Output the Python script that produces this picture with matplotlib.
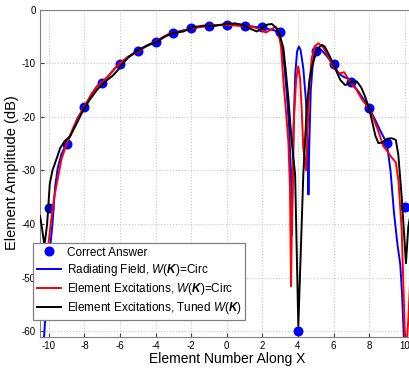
import numpy as np
import matplotlib
matplotlib.use("Agg")
import matplotlib.pyplot as plt

plt.rcParams['font.family'] = ['Liberation Sans', 'DejaVu Sans']
plt.rcParams['axes.unicode_minus'] = False
plt.rcParams['mathtext.fontset'] = 'custom'
plt.rcParams['mathtext.rm'] = 'Liberation Sans'
plt.rcParams['mathtext.it'] = 'Liberation Sans:style=italic'
plt.rcParams['mathtext.bf'] = 'Liberation Sans:style=italic:weight=bold'

# ── data ────────────────────────────────────────────────────────────────────
answer_x = list(range(-10, 11))
answer_db = [-37, -25, -18.2, -13.7, -10.2, -7.8, -6.0, -4.3, -3.5, -3.0, -2.8,
             -3.0, -3.3, -4.2, -60, -7.7, -10.2, -13.6, -18.4, -24.9, -36.8]

radiating_x = [-10.27, -10.1, -9.95, -9.8, -9.65, -9.5, -9.3, -9.0, -8.7, -8.4,
               -8.0, -7.6, -7.3, -7.0, -6.7, -6.3, -6.0, -5.6, -5.3, -5.0,
               -4.6, -4.3, -4.0, -3.6, -3.3, -3.0, -2.6, -2.3, -2.0, -1.6,
               -1.3, -1.0, -0.5, 0.0, 0.5, 1.0, 1.5, 2.0, 2.4, 2.7,
               2.9, 3.1, 3.25, 3.4, 3.5, 3.6, 3.66, 3.75, 3.85, 3.95,
               4.05, 4.15, 4.3, 4.45, 4.55, 4.59, 4.63, 4.72, 4.85, 4.97,
               5.1, 5.3, 5.6, 5.9, 6.0, 6.3, 6.6, 6.9, 7.0, 7.4,
               7.7, 8.0, 8.3, 8.6, 9.0, 9.2, 9.4, 9.6, 9.75, 9.85, 9.95]
radiating_db = [-61, -52, -45, -40, -33, -29.5, -27, -25, -22.8, -20.3,
                -18.2, -15.8, -14.3, -13.6, -12.6, -11.0, -10.2, -9.0, -8.4, -7.8,
                -6.9, -6.4, -6.0, -5.2, -4.7, -4.4, -4.0, -3.8, -3.5, -3.3,
                -3.1, -3.0, -2.9, -2.8, -2.9, -3.0, -3.2, -3.4, -3.7, -3.9,
                -4.5, -7.0, -11, -17, -22, -30, -42, -22, -12, -7.8,
                -6.9, -7.6, -11, -17, -26, -34.5, -26, -15, -9.5, -7.5,
                -7.1, -7.5, -8.6, -9.9, -10.3, -12.0, -12.6, -13.0, -13.6, -15.3,
                -16.8, -18.4, -20.3, -22.4, -25.0, -30, -38, -44, -47.5, -53, -61]

excit_x = [-10.5, -10.3, -10.1, -9.9, -9.7, -9.5, -9.3, -9.0, -8.6, -8.3,
           -8.0, -7.6, -7.3, -7.0, -6.6, -6.3, -6.0, -5.6, -5.3, -5.0,
           -4.6, -4.3, -4.0, -3.6, -3.3, -3.0, -2.6, -2.3, -2.0, -1.6,
           -1.3, -1.0, -0.5, 0.0, 0.5, 1.0, 1.4, 1.8, 2.0, 2.2,
           2.5, 2.75, 2.9, 3.05, 3.18, 3.3, 3.46, 3.55, 3.61, 3.68,
           3.78, 3.9, 4.02, 4.12, 4.21, 4.3, 4.45, 4.55, 4.65, 4.77,
           4.95, 5.15, 5.4, 5.7, 5.95, 6.2, 6.35, 6.6, 6.95, 7.3,
           7.6, 7.9, 8.2, 8.5, 8.8, 9.0, 9.2, 9.5, 9.65, 9.83,
           10.0, 10.1, 10.2, 10.3]
excit_db = [-48, -53, -46, -40, -35, -31.5, -28, -25, -21.8, -19.8,
            -18.1, -15.7, -14.4, -13.5, -12.2, -11.0, -10.0, -8.9, -8.3, -7.9,
            -7.0, -6.5, -6.0, -5.2, -4.6, -4.4, -4.1, -3.8, -3.5, -3.3,
            -3.2, -3.0, -2.9, -2.9, -3.0, -3.1, -3.2, -3.6, -3.9, -4.3,
            -3.7, -3.2, -4.0, -7.0, -13.4, -18, -24.6, -33, -51.6, -35,
            -20, -13, -10.6, -13, -18.6, -25.8, -30, -22, -14, -9.1,
            -6.8, -6.3, -7.0, -8.8, -10.5, -11.6, -11.9, -11.7, -13.6, -15.0,
            -16.8, -18.0, -20.0, -22.5, -25.5, -26.3, -27.3, -28.5, -32, -41,
            -59.7, -63, -58, -51]

tuned_x = [-10.5, -10.4, -10.25, -10.1, -9.95, -9.8, -9.65, -9.36, -9.1, -8.8,
           -8.4, -8.06, -7.7, -7.3, -6.9, -6.4, -6.1, -5.83, -5.5, -5.2,
           -4.87, -4.4, -3.92, -3.5, -3.02, -2.44, -1.89, -1.31, -0.9, -0.56,
           -0.1, 0.47, 0.8, 1.12, 1.4, 1.69, 1.9, 2.06, 2.3, 2.53,
           2.8, 3.0, 3.18, 3.3, 3.46, 3.56, 3.65, 3.84, 4.02, 4.3,
           4.49, 4.65, 4.8, 5.0, 5.2, 5.35, 5.5, 5.8, 6.1, 6.37,
           6.65, 6.95, 7.3, 7.55, 7.77, 8.0, 8.15, 8.35, 8.52, 8.75,
           9.0, 9.27, 9.5, 9.64, 9.83, 10.07, 10.2, 10.5]
tuned_db = [-38.5, -40.5, -44, -40, -32.5, -30, -28.6, -25.8, -24.5, -23.6,
            -21, -18.7, -16.8, -15.0, -13.6, -12.3, -11.2, -10.0, -8.8, -8.1,
            -7.4, -6.6, -6.0, -5.1, -4.4, -4.1, -3.3, -3.0, -3.05, -3.0,
            -2.7, -2.6, -2.8, -3.2, -3.7, -4.1, -3.7, -3.2, -2.8, -2.7,
            -3.5, -5.0, -7.2, -11, -16.5, -21, -24.6, -30.8, -59, -30.8,
            -18.6, -13, -10.5, -8.3, -7.0, -6.6, -6.9, -8.8, -11, -13.1,
            -14.1, -13.6, -13.4, -14.5, -16.2, -18.5, -20.6, -23.5, -24.9, -24.8,
            -24.1, -24.0, -24.3, -27.1, -34.9, -47.3, -40.5, -35]

labels = ['Correct Answer',
          r'Radiating Field, $\mathit{W(}\mathbf{K}\mathit{)}$=Circ',
          r'Element Excitations, $\mathit{W(}\mathbf{K}\mathit{)}$=Circ',
          r'Element Excitations, Tuned $\mathit{W(}\mathbf{K}\mathit{)}$']

# ── figure ──────────────────────────────────────────────────────────────────
fig = plt.figure(figsize=(4.1, 3.7), dpi=100)
ax = fig.add_axes([40 / 410, 33.3 / 370, 373.6 / 410, 327.2 / 370])

pts, = ax.plot(answer_x, answer_db, 'o', color='#0000ff', ms=6.2,
               zorder=2, label=labels[0])
l1, = ax.plot(radiating_x, radiating_db, color='#0000ff', lw=1.4,
              zorder=3, label=labels[1])
l2, = ax.plot(excit_x, excit_db, color='#ff0000', lw=1.4,
              zorder=4, label=labels[2])
l3, = ax.plot(tuned_x, tuned_db, color='black', lw=1.4,
              zorder=5, label=labels[3])

ax.set_xlim(-10.5, 10.5)
ax.set_ylim(-61, 0)
ax.set_xticks(range(-10, 11, 2))
ax.set_yticks(range(-60, 1, 10))
ax.grid(True, ls=':', color='#c8c8c8', lw=0.8)
ax.tick_params(direction='in', length=3, labelsize=7, colors='#404040',
               labelcolor='black', pad=3)
for sp in ax.spines.values():
    sp.set_color('#808080')

ax.set_xlabel('Element Number Along X', fontsize=10, labelpad=1)
ax.set_ylabel('Element Amplitude (dB)', fontsize=10.5, labelpad=2)

leg = ax.legend(handles=[pts, l1, l2, l3], loc='upper left',
                bbox_to_anchor=(33 / 410, 1 - 243 / 370),
                bbox_transform=fig.transFigure, borderaxespad=0,
                fontsize=8.5, fancybox=False, framealpha=1,
                edgecolor='#808080', handlelength=2.1, handletextpad=0.45,
                labelspacing=0.28, borderpad=0.3, numpoints=1)
leg.get_frame().set_linewidth(0.9)
leg.set_zorder(10)

fig.savefig('out.png', dpi=100)
